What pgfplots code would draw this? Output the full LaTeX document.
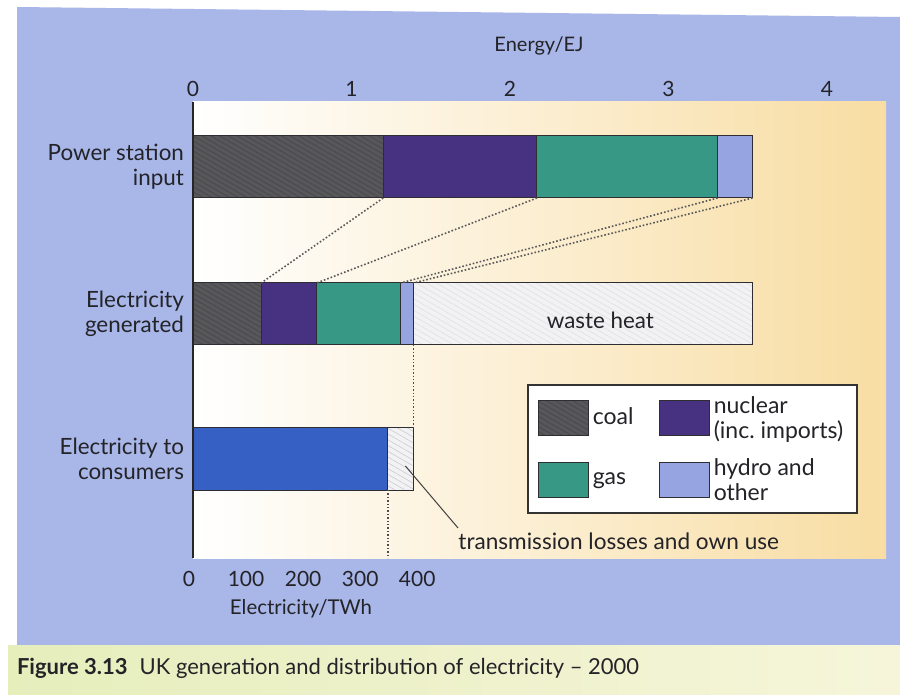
\documentclass[border=0pt]{standalone}
\usepackage{pgfplots}
\pgfplotsset{compat=1.18}
\usetikzlibrary{patterns.meta}
\usepackage{fontspec}
\setmainfont{Lato}
\definecolor{bgblue}{RGB}{168,182,232}
\definecolor{capL}{RGB}{230,238,188}
\definecolor{capR}{RGB}{246,245,218}
\definecolor{plotM}{RGB}{250,239,204}
\definecolor{plotR}{RGB}{248,221,163}
\definecolor{coalc}{RGB}{88,88,92}
\definecolor{nuclc}{RGB}{70,50,128}
\definecolor{gasc}{RGB}{56,152,134}
\definecolor{hydroc}{RGB}{150,165,226}
\definecolor{wastec}{RGB}{242,242,244}
\definecolor{consc}{RGB}{55,96,196}
\definecolor{edge}{RGB}{45,45,50}
\definecolor{txt}{RGB}{35,35,40}
\pgfplotsset{
  commonbox/.style={
    at={(96.5pt,-279pt)}, anchor=south west,
    scale only axis, width=346.5pt, height=228pt,
  },
}
\begin{document}
\begin{tikzpicture}[x=0.5pt,y=-0.5pt,font=\fontsize{11.2}{12.5}\selectfont,text=txt]
\useasboundingbox (0,0) rectangle (900,695);
\fill[white] (0,0) rectangle (900,695);
\fill[bgblue] (17,7) -- (900,17) -- (900,645) -- (17,645) -- cycle;
\shade[left color=capL, right color=capR] (8,645) rectangle (900,695);
\shade[left color=white, middle color=plotM, right color=plotR] (193,102) rectangle (886,558);

% main bar axis (energy, EJ); y = height above the plot floor, in pixels
\begin{axis}[
  commonbox,
  xmin=0, xmax=4.372, ymin=0, ymax=456,
  xbar stacked, bar width=62,
  axis line style={draw=none},
  xticklabel pos=right,
  xtick={0,1,2,3,4},
  ytick={99,244,391},
  yticklabels={{Electricity to\\consumers},{Electricity\\generated},{Power station\\input}},
  yticklabel style={align=right, font=\fontsize{11.2}{12.5}\selectfont, text=txt, xshift=-1pt},
  xticklabel style={text=txt, yshift=-1pt, font=\fontsize{10.5}{12}\selectfont},
  major tick length=0pt,
  tick style={draw=none},
  /pgf/number format/assume math mode=true,
  clip=false,
  legend columns=2,
  legend style={at={(axis cs:2.107,174)}, anchor=north west, draw=black!80, line width=0.8pt, fill=white,
    inner xsep=5pt, inner ysep=6pt, row sep=10pt,
    /tikz/every even column/.append style={column sep=3pt},
    font=\fontsize{11.5}{12.5}\selectfont, cells={anchor=west}},
  legend image code/.code={\draw[#1,draw=edge,line width=0.5pt] (0pt,-8.75pt) rectangle (25pt,8.75pt);},
  every axis plot/.append style={draw=edge, line width=0.5pt},
]
\addplot[fill=coalc, postaction={pattern={Lines[angle=-30,distance=2.2pt,line width=0.6pt]}, pattern color=black!70}]
  coordinates {(1.20,391) (0.43,244) (0,99)};
\addplot[fill=nuclc] coordinates {(0.97,391) (0.35,244) (0,99)};
\addplot[fill=gasc] coordinates {(1.14,391) (0.53,244) (0,99)};
\addplot[fill=hydroc] coordinates {(0.22,391) (0.08,244) (0,99)};
\addplot[fill=wastec, postaction={pattern={Lines[angle=-30,distance=2.5pt,line width=0.3pt]}, pattern color=black!12}]
  coordinates {(0,391) (2.14,244) (0,99)};
\addplot[fill=consc] coordinates {(0,391) (0,244) (1.23,99)};
\addplot[fill=wastec, postaction={pattern={Lines[angle=-30,distance=2.5pt,line width=0.3pt]}, pattern color=black!20}]
  coordinates {(0,391) (0,244) (0.16,99)};
\legend{\makebox[28pt][l]{coal},{\raisebox{2.5pt}[\height][\depth]{\begin{tabular}{@{}l@{}}nuclear\\(inc.\ imports)\end{tabular}}},\makebox[28pt][l]{gas},{\raisebox{2.5pt}[\height][\depth]{\begin{tabular}{@{}l@{}}hydro and\\other\end{tabular}}}}
\end{axis}

% annotation axis (same scales, hidden)
\begin{axis}[
  commonbox,
  xmin=0, xmax=4.372, ymin=0, ymax=456,
  hide axis, clip=false,
]
\addplot[line width=1.1pt, black!85] coordinates {(0,0) (0,456)};
\addplot[densely dotted, line width=0.8pt, black!65] coordinates {(1.20,360) (0.43,275)};
\addplot[densely dotted, line width=0.8pt, black!65] coordinates {(2.17,360) (0.78,275)};
\addplot[densely dotted, line width=0.8pt, black!65] coordinates {(3.31,360) (1.31,275)};
\addplot[densely dotted, line width=0.8pt, black!65] coordinates {(3.53,360) (1.39,275)};
\addplot[densely dotted, line width=0.7pt, black!70] coordinates {(1.39,213) (1.39,130)};
\addplot[densely dotted, line width=0.7pt, black!70] coordinates {(1.23,68) (1.23,0)};
\addplot[line width=0.5pt, black!75] coordinates {(1.34,92) (1.672,30)};
\node[text=txt] at (axis cs:2.57,238) {waste heat};
\node[anchor=west, text=txt, inner sep=0pt, font=\fontsize{11.3}{12.5}\selectfont] at (axis cs:1.672,17) {transmission losses and own use};
\end{axis}

% bottom axis (electricity, TWh)
\begin{axis}[
  at={(94.5pt,-279pt)}, anchor=south west,
  scale only axis, width=346.5pt, height=228pt,
  xmin=0, xmax=1214.5, ymin=0, ymax=1,
  axis line style={draw=none},
  ytick=\empty,
  xtick={0,100,200,300,400},
  major tick length=0pt, tick style={draw=none},
  xticklabel style={text=txt, yshift=-3pt, font=\fontsize{10.5}{12}\selectfont},
  /pgf/number format/assume math mode=true,
]
\addplot[draw=none] coordinates {(0,0) (400,1)};
\end{axis}

\node[text=txt, font=\fontsize{10}{12}\selectfont] at (539,46) {Energy/EJ};
\node[text=txt, font=\fontsize{10.2}{12}\selectfont] at (301,609) {Electricity/TWh};
\node[anchor=west, text=txt, font=\fontsize{11}{12}\selectfont] at (10,668) {\textbf{Figure 3.13}\hspace{0.55em}UK generation and distribution of electricity -- 2000};
\end{tikzpicture}
\end{document}
